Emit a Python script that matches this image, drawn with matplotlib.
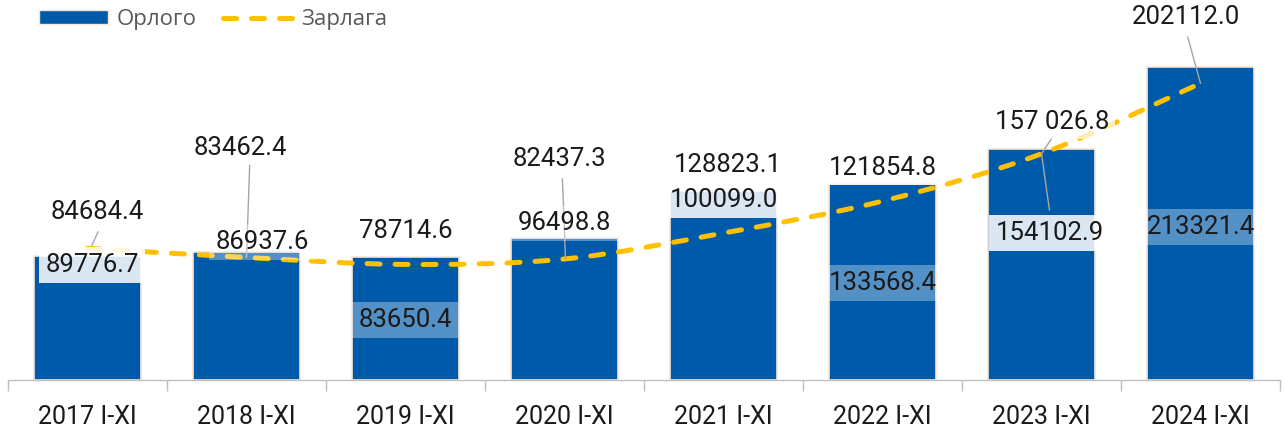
import matplotlib.pyplot as plt
from matplotlib.path import Path
from matplotlib.patches import PathPatch, Patch
from matplotlib.lines import Line2D
import numpy as np

# data
years = ["2017 I-XI", "2018 I-XI", "2019 I-XI", "2020 I-XI",
         "2021 I-XI", "2022 I-XI", "2023 I-XI", "2024 I-XI"]
orlogo = [84684.4, 86937.6, 83650.4, 96498.8, 128823.1, 133568.4, 157026.8, 213321.4]
zarlaga = [89776.7, 83462.4, 78714.6, 82437.3, 100099.0, 121854.8, 154102.9, 202112.0]

# labels as printed in the original (placed a bit loosely, like the source)
top_labels = ["84684.4", "83462.4", "78714.6", "82437.3",
              "128823.1", "121854.8", "157 026.8", "202112.0"]
inner_labels = ["89776.7", "86937.6", "83650.4", "96498.8",
                "100099.0", "133568.4", "154102.9", "213321.4"]

# label placement (category offset, y in data units)
top_pos = [(0.06, 114400), (-0.04, 158000), (0.0, 101500), (-0.03, 150500),
           (0.03, 146400), (0.0, 144400), (0.07, 175700), (-0.09, 247200)]
inner_pos = [(0.03, 78300), (0.10, 94000), (0.0, 40900), (0.0, 106900),
             (0.0, 122600), (0.0, 66100), (0.05, 100100), (0.0, 104200)]
inner_alpha = [0.86, 0.33, 0.33, 0.33, 0.86, 0.33, 0.86, 0.33]
# leader lines: (x0, y0, x1, y1) in data units
leaders = [(0.066, 100800, 0.028, 91900),
           (1.02, 146400, 1.0, 83462.4),
           (2.987, 136900, 3.006, 82437.3),
           (6.07, 165500, 6.0, 154102.9),
           (6.0, 154102.9, 6.05, 115800),
           (6.92, 233500, 7.0, 202112.0)]

blue = "#005AAA"
yellow = "#FFC000"
lab_font = "Roboto"
txt_col = "#1a1a1a"

fig = plt.figure(figsize=(12.86, 4.30), dpi=100)
ax = fig.add_axes([8 / 1286, 50 / 430, 1272 / 1286, 345 / 430])

x = np.arange(len(years))
ax.bar(x, orlogo, width=0.67, color=blue, edgecolor="#fbe5d6", linewidth=1.2, zorder=2)

# smoothed line (bezier through the points)
pts = np.column_stack([x, zarlaga]).astype(float)
verts = [tuple(pts[0])]
codes = [Path.MOVETO]
n = len(pts)
for i in range(n - 1):
    p0 = pts[max(i - 1, 0)]
    p1 = pts[i]
    p2 = pts[i + 1]
    p3 = pts[min(i + 2, n - 1)]
    c1 = p1 + (p2 - p0) / 6
    c2 = p2 - (p3 - p1) / 6
    verts += [tuple(c1), tuple(c2), tuple(p2)]
    codes += [Path.CURVE4] * 3
line = PathPatch(Path(verts, codes), fill=False, edgecolor=yellow, lw=3.6,
                 linestyle=(0, (2.6, 3.0)), capstyle="round", zorder=3)
ax.add_patch(line)

for i in range(n):
    dx, yy = top_pos[i]
    ax.text(i + dx, yy, top_labels[i], ha="center", va="center", fontsize=18.5,
            family=lab_font, color=txt_col, zorder=5,
            bbox=dict(boxstyle="square,pad=0.2", fc="white", ec="none", alpha=0.7))
    dx, yy = inner_pos[i]
    ax.text(i + dx, yy, inner_labels[i], ha="center", va="center", fontsize=18.5,
            family=lab_font, color=txt_col, zorder=5,
            bbox=dict(boxstyle="square,pad=0.25", fc="white", ec="none",
                      alpha=inner_alpha[i]))

for x0, y0, x1, y1 in leaders:
    ax.plot([x0, x1], [y0, y1], color="#a6a6a6", lw=1, zorder=4)

ax.set_xlim(-0.5, 7.5)
ax.set_ylim(0, 235000)
ax.set_xticks(x)
ax.set_xticklabels(years, family=lab_font, fontsize=18, color=txt_col)
ax.set_xticks(np.arange(-0.5, 8, 1), minor=True)
ax.tick_params(axis="x", which="major", length=0, pad=18)
ax.tick_params(axis="x", which="minor", length=8, color="#bfbfbf", width=1)
ax.set_yticks([])
for s in ["top", "left", "right"]:
    ax.spines[s].set_visible(False)
ax.spines["bottom"].set_color("#bfbfbf")
ax.spines["bottom"].set_linewidth(1)

handles = [Patch(facecolor=blue, edgecolor="#fbe5d6", label="Орлого"),
           Line2D([], [], color=yellow, lw=3.6, dashes=(2.6, 3.0),
                  dash_capstyle="round", label="Зарлага")]
leg = fig.legend(handles=handles, loc="upper left", bbox_to_anchor=(30 / 1286, 1.0),
                 ncol=2, frameon=False, handlelength=3.1, handleheight=0.55,
                 handletextpad=0.4, columnspacing=1.2, borderaxespad=0.0,
                 prop={"family": "Open Sans", "size": 16})
for t in leg.get_texts():
    t.set_color("#595959")

fig.savefig("out.png", dpi=100)
